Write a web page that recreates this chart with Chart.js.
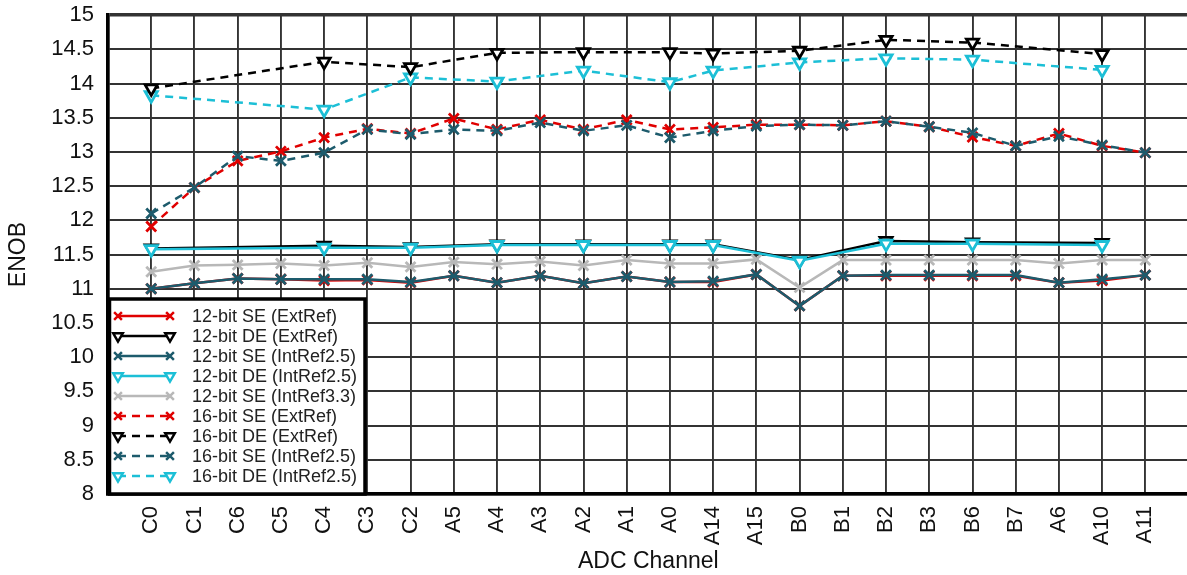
<!DOCTYPE html>
<html lang="en">
<head>
    <meta charset="UTF-8">
    <script src="https://cdn.jsdelivr.net/npm/chart.js"></script>
    <title>ENOB vs ADC Channel</title>
    <style>
        html, body { margin: 0; padding: 0; overflow: hidden; background: #fff; }
        #wrap { width: 1227px; height: 587px; position: relative; top: -12px; }
    </style>
</head>
<body>
<div id="wrap">
    <canvas id="enobChart"></canvas>
</div>
<script>
  const channels = ['C0','C1','C6','C5','C4','C3','C2','A5','A4','A3','A2','A1','A0','A14','A15','B0','B1','B2','B3','B6','B7','A6','A10','A11'];
  const yTicks = [8, 15, 0.5]; // min, max, step

  // 12-bit results
  const se12Ext   = [11.00,11.08,11.15,11.14,11.12,11.13,11.09,11.19,11.09,11.19,11.08,11.18,11.10,11.10,11.21,10.75,11.19,11.19,11.19,11.19,11.19,11.09,11.12,11.20];
  const se12Int25 = [11.00,11.08,11.15,11.14,11.14,11.14,11.10,11.19,11.09,11.19,11.08,11.18,11.10,11.11,11.21,10.75,11.19,11.20,11.20,11.20,11.20,11.09,11.14,11.20];
  const se12Int33 = [11.25,11.34,11.35,11.37,11.34,11.38,11.32,11.39,11.36,11.40,11.34,11.42,11.37,11.37,11.43,11.02,11.42,11.42,11.42,11.42,11.42,11.37,11.42,11.42];
  const de12Ext   = [11.59,null,null,null,11.63,null,11.61,null,11.65,null,11.65,null,11.65,11.65,null,11.42,null,11.70,null,11.68,null,null,11.67,null];
  const de12Int25 = [11.58,null,null,null,11.60,null,11.60,null,11.64,null,11.64,null,11.64,11.64,null,11.41,null,11.66,null,11.66,null,null,11.64,null];

  // 16-bit results
  const se16Ext   = [11.91,12.48,12.87,13.01,13.21,13.34,13.27,13.49,13.33,13.47,13.33,13.47,13.33,13.36,13.40,13.40,13.39,13.45,13.37,13.22,13.09,13.27,13.09,12.99];
  const se16Int25 = [12.10,12.48,12.94,12.87,12.99,13.33,13.26,13.33,13.31,13.43,13.31,13.39,13.21,13.31,13.38,13.40,13.39,13.45,13.37,13.28,13.09,13.23,13.10,12.99];
  const de16Ext   = [13.93,null,null,null,14.32,null,14.24,null,14.45,null,14.46,null,14.46,14.44,null,14.48,null,14.64,null,14.60,null,null,14.43,null];
  const de16Int25 = [13.83,null,null,null,13.62,null,14.09,null,14.03,null,14.19,null,14.02,14.19,null,14.31,null,14.37,null,14.35,null,null,14.20,null];

  const RED = '#e00000', BLACK = '#000000', TEAL = '#1d5b6c', CYAN = '#1cbfd6', GRAY = '#b8b8b8';
  const FONT = 'Arial, "Liberation Sans", sans-serif';

  function pts(arr) {
      return arr.map((v, i) => ({ x: i, y: v })).filter(p => p.y !== null);
  }

  function series(label, arr, color, style, dashed, order) {
      const tri = style === 'tri';
      return {
          label: label,
          data: pts(arr),
          borderColor: color,
          backgroundColor: color,
          borderWidth: 2.5,
          borderDash: dashed ? [8, 6] : [],
          pointStyle: tri ? 'triangle' : 'crossRot',
          rotation: tri ? 180 : 0,
          pointRadius: 7,
          pointBorderWidth: 2.8,
          pointBorderColor: color,
          pointBackgroundColor: tri ? '#ffffff' : color,
          spanGaps: true,
          tension: 0,
          order: order
      };
  }

  const datasets = [
      series('12-bit SE (ExtRef)',    se12Ext,   RED,   'x',   false, 6),
      series('12-bit DE (ExtRef)',    de12Ext,   BLACK, 'tri', false, 5),
      series('12-bit SE (IntRef2.5)', se12Int25, TEAL,  'x',   false, 4),
      series('12-bit DE (IntRef2.5)', de12Int25, CYAN,  'tri', false, 3),
      series('12-bit SE (IntRef3.3)', se12Int33, GRAY,  'x',   false, 7),
      series('16-bit SE (ExtRef)',    se16Ext,   RED,   'x',   true,  2),
      series('16-bit DE (ExtRef)',    de16Ext,   BLACK, 'tri', true,  1),
      series('16-bit SE (IntRef2.5)', se16Int25, TEAL,  'x',   true,  0),
      series('16-bit DE (IntRef2.5)', de16Int25, CYAN,  'tri', true,  1)
  ];

  // legend box drawn inside the plot, bottom left
  const boxLegend = {
      id: 'boxLegend',
      afterDraw(chart) {
          const ctx = chart.ctx;
          const area = chart.chartArea;
          const x0 = area.left, y1 = area.bottom;
          const w = 257, h = 195;
          const y0 = y1 - h;
          ctx.save();
          ctx.fillStyle = '#fff';
          ctx.fillRect(x0, y0, w, h);
          ctx.lineWidth = 3.5;
          ctx.strokeStyle = '#000';
          ctx.strokeRect(x0 + 1.5, y0, w - 1.5, h);
          ctx.font = '18px ' + FONT;
          ctx.textBaseline = 'middle';
          chart.data.datasets.forEach((ds, i) => {
              const y = y0 + 17 + i * 20;
              const xa = x0 + 10, xb = x0 + 62;
              ctx.beginPath();
              ctx.setLineDash(ds.borderDash);
              ctx.lineWidth = 2.5;
              ctx.strokeStyle = ds.borderColor;
              ctx.moveTo(xa, y);
              ctx.lineTo(xb, y);
              ctx.stroke();
              ctx.setLineDash([]);
              [xa, xb].forEach(px => {
                  ctx.strokeStyle = ds.pointBorderColor;
                  ctx.fillStyle = ds.pointBackgroundColor;
                  ctx.lineWidth = 2.5;
                  Chart.helpers.drawPoint(ctx, {
                      pointStyle: ds.pointStyle,
                      rotation: ds.rotation,
                      radius: 5.5,
                      borderWidth: 2.5
                  }, px, y);
              });
              ctx.fillStyle = '#222';
              ctx.fillText(ds.label, x0 + 84, y + 1);
          });
          ctx.restore();
      }
  };

  const ctx = document.getElementById('enobChart').getContext('2d');
  new Chart(ctx, {
      type: 'line',
      data: { datasets: datasets },
      plugins: [boxLegend],
      options: {
          responsive: true,
          maintainAspectRatio: false,
          animation: false,
          layout: { padding: { top: 1.5, right: 4, left: 0, bottom: 0 } },
          plugins: {
              legend: { display: false },
              tooltip: { enabled: false }
          },
          scales: {
              x: {
                  type: 'linear',
                  min: -1,
                  max: channels.length,
                  afterFit: s => { s.height = 81; },
                  afterBuildTicks: s => {
                      s.ticks = [];
                      for (let i = -1; i <= channels.length; i++) s.ticks.push({ value: i });
                  },
                  ticks: {
                      autoSkip: false,
                      minRotation: 90,
                      maxRotation: 90,
                      padding: 12,
                      color: '#111',
                      font: { family: FONT, size: 22 },
                      callback: v => channels[v] || ''
                  },
                  grid: {
                      drawTicks: false,
                      color: '#333',
                      lineWidth: c => (c.tick && (c.tick.value === -1 || c.tick.value === channels.length)) ? 3.5 : 1.9
                  },
                  border: { display: true, color: '#000', width: 3.5 },
                  title: {
                      display: true,
                      text: 'ADC Channel',
                      color: '#111',
                      font: { family: FONT, size: 23 },
                      padding: { top: 0, bottom: 0 }
                  }
              },
              y: {
                  min: yTicks[0],
                  max: yTicks[1],
                  afterFit: s => { s.width = 108; },
                  ticks: {
                      stepSize: yTicks[2],
                      padding: 14,
                      color: '#111',
                      font: { family: FONT, size: 22 },
                      callback: v => String(v)
                  },
                  grid: {
                      drawTicks: false,
                      color: '#333',
                      lineWidth: c => (c.tick && (c.tick.value === yTicks[1] || c.tick.value === yTicks[0])) ? 3.5 : 1.9
                  },
                  border: { display: true, color: '#000', width: 3.5 },
                  title: {
                      display: true,
                      text: 'ENOB',
                      color: '#111',
                      font: { family: FONT, size: 23 },
                      padding: { top: 5, bottom: 0 }
                  }
              }
          }
      }
  });
</script>
</body>
</html>
